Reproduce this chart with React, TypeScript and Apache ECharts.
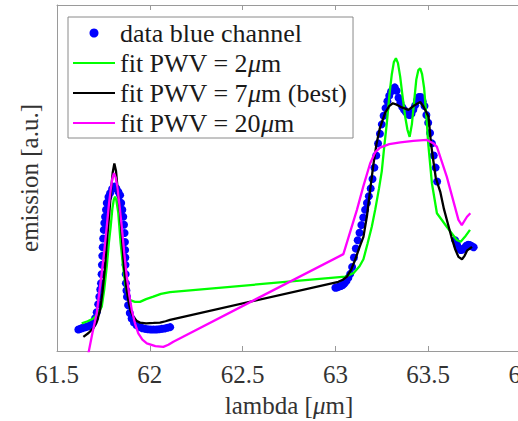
import React, { useEffect, useRef } from "react";
import * as echarts from "echarts";

// ---- data (lambda in µm, emission in arbitrary units) ----
const dataLambda = [
  61.615, 61.625, 61.635, 61.645, 61.655, 61.665, 61.675, 61.685, 61.695, 61.705,
  61.714, 61.722, 61.728, 61.733, 61.737, 61.74, 61.742, 61.744, 61.746, 61.749,
  61.752, 61.755, 61.759, 61.764, 61.768, 61.777, 61.786, 61.797, 61.809, 61.82,
  61.831, 61.84, 61.846, 61.852, 61.857, 61.861, 61.864, 61.866, 61.867, 61.868,
  61.869, 61.87, 61.871, 61.874, 61.877, 61.883, 61.892, 61.902, 61.915, 61.93,
  61.945, 61.96, 61.975, 61.99, 62.005, 62.02, 62.035, 62.05, 62.065, 62.08,
  62.095, 62.11,
  63.0, 63.01, 63.02, 63.03, 63.04, 63.05, 63.06, 63.07, 63.08, 63.09,
  63.1, 63.11, 63.12, 63.13, 63.14, 63.15, 63.16, 63.17, 63.18, 63.19,
  63.2, 63.21, 63.22, 63.23, 63.24, 63.25, 63.26, 63.27, 63.28, 63.29,
  63.3, 63.31, 63.32, 63.33, 63.34, 63.35, 63.36, 63.37, 63.38, 63.39,
  63.4, 63.41, 63.42, 63.43, 63.44, 63.45, 63.46, 63.47, 63.48, 63.49,
  63.5, 63.51, 63.52, 63.53, 63.54, 63.548,
  63.645, 63.655, 63.665, 63.675, 63.685, 63.695, 63.705, 63.715, 63.725, 63.735, 63.745,
];
const dataValue = [
  0.062, 0.064, 0.066, 0.068, 0.069, 0.071, 0.073, 0.076, 0.08, 0.095,
  0.112, 0.135, 0.157, 0.178, 0.196, 0.222, 0.249, 0.275, 0.3, 0.325,
  0.35, 0.37, 0.388, 0.408, 0.428, 0.445, 0.456, 0.468, 0.475, 0.47,
  0.46, 0.45, 0.428, 0.408, 0.388, 0.365, 0.341, 0.315, 0.292, 0.27,
  0.249, 0.222, 0.196, 0.175, 0.157, 0.132, 0.11, 0.094, 0.082, 0.074,
  0.069, 0.066, 0.064, 0.063, 0.062, 0.062, 0.062, 0.063, 0.064, 0.065,
  0.067, 0.069,
  0.183, 0.184, 0.186, 0.188, 0.191, 0.196, 0.203, 0.212, 0.223, 0.243,
  0.27, 0.296, 0.32, 0.342, 0.364, 0.386, 0.408, 0.428, 0.447, 0.47,
  0.497, 0.53, 0.565, 0.6, 0.628, 0.655, 0.68, 0.702, 0.722, 0.738,
  0.75, 0.758, 0.762, 0.752, 0.732, 0.718, 0.705, 0.697, 0.69, 0.684,
  0.682, 0.686, 0.698, 0.71, 0.724, 0.734, 0.734, 0.722, 0.708, 0.682,
  0.66, 0.63, 0.6, 0.565, 0.53, 0.49,
  0.32, 0.308, 0.298, 0.292, 0.293, 0.298, 0.304, 0.307, 0.306, 0.303, 0.3,
];

const fit2Lambda = [
  61.633, 61.665, 61.696, 61.72, 61.741, 61.755, 61.768, 61.779, 61.789, 61.798,
  61.806, 61.813, 61.82, 61.83, 61.843, 61.855, 61.867, 61.88, 61.894, 61.92,
  61.947, 61.98, 62.019, 62.06, 62.109,
  63.053, 63.097, 63.13, 63.151, 63.173, 63.196, 63.215, 63.235, 63.25, 63.263,
  63.277, 63.291, 63.304, 63.315, 63.326, 63.337, 63.349, 63.362, 63.376, 63.388,
  63.4, 63.412, 63.424, 63.436, 63.447, 63.457, 63.467, 63.478, 63.49, 63.5,
  63.52, 63.547, 63.6, 63.654, 63.675, 63.698, 63.725,
];
const fit2Value = [
  0.08, 0.086, 0.094, 0.108, 0.128, 0.18, 0.244, 0.31, 0.359, 0.41,
  0.437, 0.446, 0.435, 0.4, 0.311, 0.25, 0.196, 0.162, 0.147, 0.142,
  0.142, 0.15, 0.157, 0.165, 0.17,
  0.215, 0.225, 0.245, 0.265, 0.31, 0.359, 0.41, 0.47, 0.52, 0.59,
  0.658, 0.74, 0.8, 0.835, 0.846, 0.832, 0.793, 0.735, 0.677, 0.64,
  0.619, 0.655, 0.72, 0.785, 0.812, 0.817, 0.8, 0.76, 0.68, 0.6,
  0.485, 0.398, 0.359, 0.321, 0.316, 0.33, 0.35,
];

const fit7Lambda = [
  61.642, 61.67, 61.696, 61.715, 61.732, 61.745, 61.759, 61.771, 61.782, 61.792,
  61.8, 61.809, 61.818, 61.828, 61.84, 61.851, 61.861, 61.872, 61.884, 61.897,
  61.911, 61.93, 61.947, 61.98, 62.02, 62.055, 62.085, 62.109,
  63.016, 63.04, 63.062, 63.085, 63.106, 63.13, 63.151, 63.17, 63.187, 63.205,
  63.222, 63.24, 63.268, 63.29, 63.309, 63.33, 63.358, 63.394, 63.42, 63.457,
  63.475, 63.502, 63.515, 63.527, 63.541, 63.565, 63.585, 63.605, 63.625, 63.645,
  63.663, 63.682, 63.696, 63.709, 63.736,
];
const fit7Value = [
  0.041, 0.052, 0.066, 0.085, 0.118, 0.17, 0.244, 0.33, 0.399, 0.47,
  0.515, 0.542, 0.52, 0.46, 0.399, 0.32, 0.244, 0.19, 0.147, 0.115,
  0.099, 0.087, 0.082, 0.08, 0.081, 0.082, 0.086, 0.09,
  0.2, 0.206, 0.215, 0.235, 0.263, 0.3, 0.33, 0.39, 0.465, 0.54,
  0.6, 0.645, 0.688, 0.708, 0.716, 0.712, 0.704, 0.697, 0.708, 0.72,
  0.706, 0.677, 0.6, 0.552, 0.5, 0.46, 0.41, 0.37, 0.33, 0.295,
  0.272, 0.265, 0.275, 0.29, 0.301,
];

const fit20Lambda = [
  61.668, 61.69, 61.714, 61.728, 61.741, 61.755, 61.768, 61.779, 61.789, 61.798,
  61.807, 61.816, 61.825, 61.837, 61.849, 61.862, 61.876, 61.89, 61.903, 61.92,
  61.938, 61.96, 61.984, 62.03, 62.073, 62.1, 62.127,
  63.043, 63.08, 63.116, 63.15, 63.187, 63.215, 63.24, 63.29, 63.35, 63.42,
  63.493, 63.529, 63.547, 63.6, 63.663, 63.681, 63.709, 63.727,
];
const fit20Value = [
  -0.01, 0.05, 0.109, 0.17, 0.225, 0.29, 0.359, 0.42, 0.465, 0.498,
  0.514, 0.502, 0.475, 0.42, 0.359, 0.285, 0.215, 0.16, 0.118, 0.08,
  0.051, 0.033, 0.022, 0.014, 0.012, 0.018, 0.027,
  0.28, 0.345, 0.408, 0.475, 0.542, 0.575, 0.588, 0.598, 0.603, 0.607,
  0.61, 0.6, 0.59, 0.504, 0.379, 0.364, 0.388, 0.398,
];

const xTicks = [61.5, 62, 62.5, 63, 63.5, 64];

const names = [
  "data blue channel",
  "fit PWV = 2μm",
  "fit PWV = 7μm (best)",
  "fit PWV = 20μm",
];

const zip = (xs: number[], ys: number[]) => xs.map((x, i) => [x, ys[i]]);

const FONT = "'Liberation Serif', 'Times New Roman', 'DejaVu Serif', serif";

export default function App() {
  const ref = useRef<HTMLDivElement>(null);
  useEffect(() => {
    if (!ref.current) return;
    const chart = echarts.init(ref.current, null, { renderer: "svg" });
    const axisGray = "#9a9a9a";
    const legendFmt = (name: string) => {
      const i = name.indexOf("μ");
      if (i < 0) return `{r|${name}}`;
      return `{r|${name.slice(0, i)}}{i|μ}{r|${name.slice(i + 1)}}`;
    };
    const hideSym = { opacity: 0 };
    chart.setOption({
      animation: false,
      backgroundColor: "#ffffff",
      textStyle: { fontFamily: FONT },
      grid: {
        left: 57,
        top: 5,
        right: -3,
        bottom: 70,
        containLabel: false,
        outerBoundsMode: "none",
      },
      legend: {
        orient: "vertical",
        left: 68,
        top: 17,
        padding: [3, 6, 2, 4],
        itemWidth: 42,
        itemHeight: 9,
        itemGap: 4,
        backgroundColor: "#ffffff",
        borderColor: "#8a8a8a",
        borderWidth: 1,
        borderRadius: 0,
        data: [
          { name: names[0], icon: "circle" },
          { name: names[1], itemStyle: hideSym },
          { name: names[2], itemStyle: hideSym },
          { name: names[3], itemStyle: hideSym },
        ],
        formatter: legendFmt,
        textStyle: {
          fontFamily: FONT,
          fontSize: 26,
          color: "#1a1a1a",
          lineHeight: 26,
          rich: {
            r: { fontFamily: FONT, fontSize: 26, color: "#1a1a1a", lineHeight: 26 },
            i: { fontFamily: FONT, fontSize: 26, fontStyle: "italic", color: "#1a1a1a", lineHeight: 26 },
          },
        },
      },
      xAxis: [
        {
          type: "value",
          min: xTicks[0],
          max: xTicks[xTicks.length - 1],
          interval: 0.5,
          position: "bottom",
          name: "lambda [{i|μ}m]",
          nameLocation: "middle",
          nameGap: 42,
          nameTextStyle: {
            fontFamily: FONT,
            fontSize: 25,
            color: "#333",
            rich: { i: { fontFamily: FONT, fontSize: 25, fontStyle: "italic", color: "#333" } },
          },
          axisLine: { show: true, lineStyle: { color: axisGray, width: 1 } },
          axisTick: { show: true, inside: true, length: 5, lineStyle: { color: axisGray } },
          axisLabel: { fontFamily: FONT, fontSize: 25, color: "#333", margin: 11, hideOverlap: false },
          splitLine: { show: false },
        },
        {
          type: "value",
          min: xTicks[0],
          max: xTicks[xTicks.length - 1],
          interval: 0.5,
          position: "top",
          axisLine: { show: true, lineStyle: { color: axisGray, width: 1 } },
          axisTick: { show: true, inside: true, length: 5, lineStyle: { color: axisGray } },
          axisLabel: { show: false },
          splitLine: { show: false },
        },
      ],
      yAxis: {
        type: "value",
        min: 0,
        max: 1,
        name: "emission [a.u.]",
        nameLocation: "middle",
        nameGap: 15,
        nameTextStyle: { fontFamily: FONT, fontSize: 25, color: "#333" },
        axisLine: { show: true, lineStyle: { color: axisGray, width: 1 } },
        axisTick: { show: false },
        axisLabel: { show: false },
        splitLine: { show: false },
      },
      series: [
        {
          name: names[0],
          type: "scatter",
          data: zip(dataLambda, dataValue),
          symbol: "circle",
          symbolSize: 8,
          itemStyle: { color: "#0000ff", opacity: 1 },
          z: 1,
        },
        {
          name: names[1],
          type: "line",
          data: zip(fit2Lambda, fit2Value),
          symbol: "none",
          lineStyle: { color: "#00ff00", width: 2.3 },
          itemStyle: { color: "#00ff00" },
          z: 2,
        },
        {
          name: names[2],
          type: "line",
          data: zip(fit7Lambda, fit7Value),
          symbol: "none",
          lineStyle: { color: "#000000", width: 2.3 },
          itemStyle: { color: "#000000" },
          z: 3,
        },
        {
          name: names[3],
          type: "line",
          data: zip(fit20Lambda, fit20Value),
          symbol: "none",
          lineStyle: { color: "#ff00ff", width: 2.3 },
          itemStyle: { color: "#ff00ff" },
          z: 4,
        },
      ],
    });
    return () => chart.dispose();
  }, []);
  return (
    <div
      ref={ref}
      style={{ position: "fixed", left: 0, top: 0, width: 518, height: 421, background: "#fff" }}
    />
  );
}
